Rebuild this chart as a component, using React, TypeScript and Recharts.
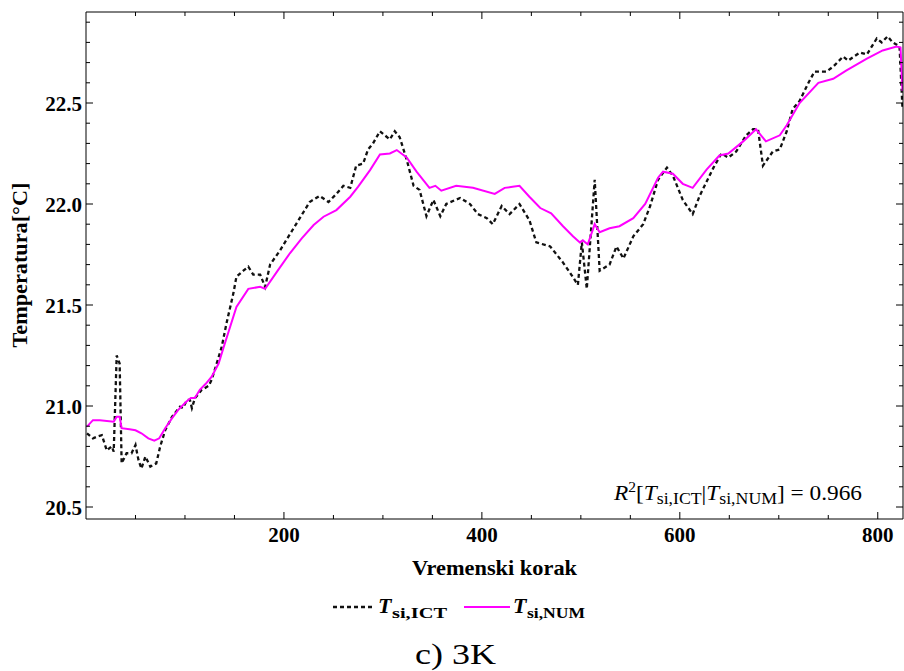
import React from 'react';
import { LineChart, Line, XAxis, YAxis } from 'recharts';

const ictSteps = [1, 7, 12, 16, 21, 26, 28, 31, 34, 36, 41, 46, 50, 53, 56, 60, 65, 71, 75, 80, 87, 95, 98, 102, 105, 107, 110, 117, 124, 127, 132, 137, 142, 149, 152, 159, 164, 169, 176, 181, 186, 196, 206, 216, 226, 236, 245, 253, 260, 267, 273, 280, 285, 290, 297, 307, 312, 317, 324, 331, 337, 344, 351, 358, 364, 378, 388, 396, 405, 411, 420, 428, 438, 448, 455, 469, 482, 489, 497, 501, 506, 514, 519, 529, 536, 543, 553, 563, 570, 578, 587, 593, 603, 613, 620, 634, 642, 649, 657, 667, 674, 679, 684, 694, 701, 708, 714, 721, 730, 736, 748, 755, 765, 770, 782, 789, 799, 804, 810, 815, 822, 825];
const ictTemps = [20.865, 20.84, 20.85, 20.856, 20.78, 20.8, 20.774, 21.25, 21.21, 20.716, 20.766, 20.766, 20.807, 20.733, 20.69, 20.75, 20.7, 20.716, 20.8, 20.88, 20.947, 20.997, 20.99, 21.03, 21.03, 20.99, 21.038, 21.08, 21.1, 21.13, 21.21, 21.29, 21.41, 21.56, 21.64, 21.67, 21.69, 21.65, 21.65, 21.59, 21.7, 21.77, 21.85, 21.93, 22.01, 22.04, 22.01, 22.05, 22.09, 22.08, 22.19, 22.2, 22.27, 22.3, 22.36, 22.32, 22.36, 22.33, 22.22, 22.09, 22.07, 21.94, 22.02, 21.94, 22.0, 22.03, 22.0, 21.95, 21.93, 21.9, 21.99, 21.95, 22.0, 21.92, 21.81, 21.79, 21.71, 21.66, 21.6, 21.81, 21.58, 22.12, 21.67, 21.7, 21.79, 21.73, 21.84, 21.9, 21.99, 22.12, 22.18, 22.14, 22.02, 21.95, 22.04, 22.18, 22.25, 22.23, 22.26, 22.34, 22.37, 22.37, 22.19, 22.26, 22.27, 22.36, 22.47, 22.51, 22.6, 22.655, 22.655, 22.68, 22.73, 22.71, 22.75, 22.74, 22.82, 22.8, 22.83, 22.8, 22.78, 22.47];

const numSteps = [1, 7, 14, 28, 31, 34, 36, 44, 50, 56, 63, 69, 74, 80, 87, 93, 101, 106, 110, 115, 121, 127, 134, 139, 152, 164, 176, 181, 193, 206, 218, 230, 240, 253, 267, 275, 287, 297, 307, 314, 324, 334, 347, 353, 359, 374, 391, 413, 423, 431, 438, 448, 459, 470, 482, 492, 499, 502, 507, 514, 519, 529, 539, 553, 565, 578, 583, 593, 603, 613, 627, 640, 649, 664, 677, 687, 701, 708, 721, 740, 755, 768, 789, 805, 819, 823, 825];
const numTemps = [20.898, 20.93, 20.93, 20.922, 20.947, 20.947, 20.89, 20.885, 20.88, 20.865, 20.84, 20.828, 20.84, 20.89, 20.94, 20.98, 21.02, 21.04, 21.04, 21.08, 21.11, 21.145, 21.21, 21.29, 21.49, 21.58, 21.59, 21.58, 21.665, 21.756, 21.83, 21.896, 21.937, 21.97, 22.036, 22.086, 22.168, 22.245, 22.25, 22.267, 22.23, 22.16, 22.08, 22.09, 22.066, 22.09, 22.08, 22.05, 22.08, 22.085, 22.09, 22.036, 21.98, 21.954, 21.89, 21.84, 21.81, 21.82, 21.8, 21.9, 21.86, 21.88, 21.89, 21.93, 22.0, 22.13, 22.16, 22.15, 22.1, 22.08, 22.17, 22.24, 22.25, 22.31, 22.37, 22.31, 22.34, 22.39, 22.5, 22.6, 22.62, 22.66, 22.72, 22.76, 22.78, 22.775, 22.56];

const xTicks = [50, 100, 150, 200, 250, 300, 350, 400, 450, 500, 550, 600, 650, 700, 750, 800];
const xLabelTicks = [200, 400, 600, 800];
const yTicks = [20.5, 20.6, 20.7, 20.8, 20.9, 21.0, 21.1, 21.2, 21.3, 21.4, 21.5, 21.6, 21.7, 21.8, 21.9, 22.0, 22.1, 22.2, 22.3, 22.4, 22.5, 22.6, 22.7, 22.8, 22.9];
const yLabelTicks = [20.5, 21.0, 21.5, 22.0, 22.5];

const ictData = ictSteps.map((t, i) => ({ t, v: ictTemps[i] }));
const numData = numSteps.map((t, i) => ({ t, v: numTemps[i] }));

const X_DOMAIN: [number, number] = [0, 825.5];
const Y_DOMAIN: [number, number] = [20.4406, 22.9505];

const FONT = "'Liberation Serif', 'Times New Roman', serif";
const isMajorY = (v: number) => yLabelTicks.some((m) => Math.abs(m - v) < 1e-6);

const BottomTick = (props: any) => {
  const { x, y, payload } = props;
  const v = payload.value;
  const major = xLabelTicks.includes(v);
  return (
    <g>
      <line x1={x} y1={y} x2={x} y2={y - (major ? 7 : 4)} stroke="#000" strokeWidth={1} />
      {major && (
        <text x={x} y={y + 23} textAnchor="middle" fontFamily={FONT} fontWeight="bold" fontSize={21} fill="#000">
          {v}
        </text>
      )}
    </g>
  );
};

const TopTick = (props: any) => {
  const { x, y, payload } = props;
  const major = xLabelTicks.includes(payload.value);
  return <line x1={x} y1={y} x2={x} y2={y + (major ? 7 : 4)} stroke="#000" strokeWidth={1} />;
};

const LeftTick = (props: any) => {
  const { x, y, payload } = props;
  const v = payload.value;
  const major = isMajorY(v);
  return (
    <g>
      <line x1={x} y1={y} x2={x + (major ? 7 : 4)} y2={y} stroke="#000" strokeWidth={1} />
      {major && (
        <text x={x - 4} y={y + 7.5} textAnchor="end" fontFamily={FONT} fontWeight="bold" fontSize={21} fill="#000">
          {v.toFixed(1)}
        </text>
      )}
    </g>
  );
};

const RightTick = (props: any) => {
  const { x, y, payload } = props;
  const major = isMajorY(payload.value);
  return <line x1={x} y1={y} x2={x - (major ? 7 : 4)} y2={y} stroke="#000" strokeWidth={1} />;
};

export default function App() {
  return (
    <div style={{ position: 'absolute', left: 0, top: 0, width: 904, height: 671, background: '#fff' }}>
      <LineChart width={904} height={671} margin={{ top: 11, right: 0, left: 0, bottom: 122 }}>
        <XAxis
          xAxisId="b"
          dataKey="t"
          type="number"
          domain={X_DOMAIN}
          ticks={xTicks}
          interval={0}
          tick={<BottomTick />}
          tickLine={false}
          tickSize={0}
          tickMargin={0}
          height={30}
          axisLine={{ stroke: '#000', strokeWidth: 1 }}
          allowDataOverflow
        />
        <XAxis
          xAxisId="top"
          orientation="top"
          dataKey="t"
          type="number"
          domain={X_DOMAIN}
          ticks={xTicks}
          interval={0}
          tick={<TopTick />}
          tickLine={false}
          tickSize={0}
          tickMargin={0}
          height={1}
          axisLine={{ stroke: '#000', strokeWidth: 1 }}
          allowDataOverflow
        />
        <YAxis
          yAxisId="l"
          type="number"
          domain={Y_DOMAIN}
          ticks={yTicks}
          interval={0}
          tick={<LeftTick />}
          tickLine={false}
          tickSize={0}
          tickMargin={0}
          width={86}
          axisLine={{ stroke: '#000', strokeWidth: 1 }}
          allowDataOverflow
        />
        <YAxis
          yAxisId="r"
          orientation="right"
          type="number"
          domain={Y_DOMAIN}
          ticks={yTicks}
          interval={0}
          tick={<RightTick />}
          tickLine={false}
          tickSize={0}
          tickMargin={0}
          width={1}
          axisLine={{ stroke: '#000', strokeWidth: 1 }}
          allowDataOverflow
        />
        <Line
          xAxisId="top"
          yAxisId="r"
          data={numData}
          dataKey="v"
          type="linear"
          stroke="transparent"
          strokeWidth={0}
          dot={false}
          legendType="none"
          isAnimationActive={false}
        />
        <Line
          xAxisId="b"
          yAxisId="l"
          data={ictData}
          dataKey="v"
          type="linear"
          stroke="#111"
          strokeWidth={2.3}
          strokeDasharray="4 3"
          dot={false}
          isAnimationActive={false}
        />
        <Line
          xAxisId="b"
          yAxisId="l"
          data={numData}
          dataKey="v"
          type="linear"
          stroke="#ff00ff"
          strokeWidth={2}
          dot={false}
          isAnimationActive={false}
        />
      </LineChart>
      <svg width={904} height={671} style={{ position: 'absolute', left: 0, top: 0, pointerEvents: 'none' }}>
        <text
          transform="translate(27,265) rotate(-90)"
          textAnchor="middle"
          fontFamily={FONT}
          fontWeight="bold"
          fontSize={21}
          textLength={165}
          lengthAdjust="spacingAndGlyphs"
          fill="#000"
        >
          Temperatura[°C]
        </text>
        <text x={494.5} y={575} textAnchor="middle" fontFamily={FONT} fontWeight="bold" fontSize={21} textLength={165} lengthAdjust="spacingAndGlyphs" fill="#000">
          Vremenski korak
        </text>
        <line x1={333} y1={607} x2={375} y2={607} stroke="#111" strokeWidth={2.3} strokeDasharray="4 3" />
        <text x={378} y={613} fontFamily={FONT} fontWeight="bold" fontStyle="italic" fontSize={22} fill="#000">T</text>
        <text x={392} y={618} fontFamily={FONT} fontWeight="bold" fontSize={15} textLength={55} lengthAdjust="spacingAndGlyphs" fill="#000">si,ICT</text>
        <line x1={464} y1={607} x2={510} y2={607} stroke="#ff00ff" strokeWidth={2} />
        <text x={513} y={613} fontFamily={FONT} fontWeight="bold" fontStyle="italic" fontSize={22} fill="#000">T</text>
        <text x={527} y={618} fontFamily={FONT} fontWeight="bold" fontSize={15} textLength={58} lengthAdjust="spacingAndGlyphs" fill="#000">si,NUM</text>
        <text x={614} y={500} fontFamily={FONT} fontSize={21} textLength={248} lengthAdjust="spacingAndGlyphs" fill="#000">
          <tspan fontStyle="italic">R</tspan>
          <tspan fontSize={14} dy={-8}>2</tspan>
          <tspan dy={8}>[</tspan>
          <tspan fontStyle="italic">T</tspan>
          <tspan fontSize={16} dy={4}>si,ICT</tspan>
          <tspan dy={-4}>|</tspan>
          <tspan fontStyle="italic">T</tspan>
          <tspan fontSize={16} dy={4}>si,NUM</tspan>
          <tspan dy={-4}>] = 0.966</tspan>
        </text>
        <text x={455.5} y={664} textAnchor="middle" fontFamily={FONT} fontSize={30} textLength={81} lengthAdjust="spacingAndGlyphs" fill="#000">
          c) 3K
        </text>
      </svg>
    </div>
  );
}
